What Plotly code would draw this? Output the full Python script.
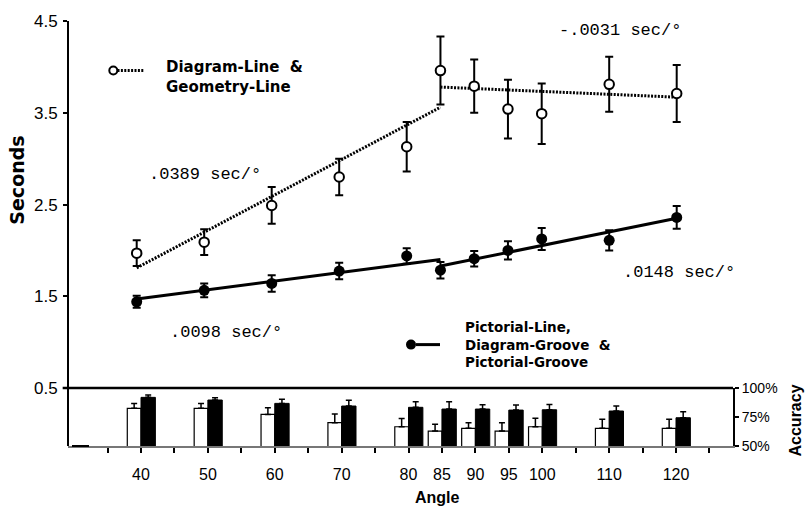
import plotly.graph_objects as go

# ---------------- data ----------------
angles = [40, 50, 60, 70, 80, 85, 90, 95, 100, 110, 120]

# Diagram-Line & Geometry-Line (open circles), seconds
open_rt = [1.97, 2.09, 2.49, 2.80, 3.13, 3.96, 3.79, 3.54, 3.49, 3.81, 3.71]
open_err = [0.14, 0.14, 0.20, 0.20, 0.27, 0.37, 0.29, 0.32, 0.33, 0.30, 0.31]

# Pictorial-Line, Diagram-Groove & Pictorial-Groove (filled circles), seconds
filled_rt = [1.44, 1.565, 1.64, 1.775, 1.94, 1.785, 1.91, 2.00, 2.125, 2.11, 2.36]
filled_err = [0.065, 0.075, 0.09, 0.09, 0.085, 0.09, 0.085, 0.10, 0.12, 0.11, 0.125]

# regression segments
open_fit1_x = [40, 85]
open_fit1_y = [1.81, 3.56]
open_fit2_x = [85, 120]
open_fit2_y = [3.78, 3.67]
filled_fit1_x = [40, 85]
filled_fit1_y = [1.47, 1.90]
filled_fit2_x = [85, 120]
filled_fit2_y = [1.83, 2.35]

slope_labels = [".0389 sec/°", "-.0031 sec/°", ".0148 sec/°", ".0098 sec/°"]

# accuracy (%)
acc_open = [82.5, 82.5, 77.3, 70.1, 66.6, 62.9, 65.3, 62.9, 66.6, 65.3, 65.3]
acc_open_err = [4.3, 4.3, 5.7, 7.5, 7.2, 5.8, 4.8, 7.2, 7.3, 7.7, 7.7]
acc_filled = [92.0, 89.7, 86.8, 84.5, 83.4, 81.9, 81.9, 81.0, 81.3, 80.2, 74.4]
acc_filled_err = [2.0, 2.0, 3.5, 4.9, 4.8, 6.3, 3.7, 4.3, 4.6, 4.3, 5.2]

angle_ticks = [35, 40, 45, 50, 55, 60, 65, 70, 75, 80, 85, 90, 95, 100, 105, 110, 115, 120, 125]
angle_labels = [40, 50, 60, 70, 80, 85, 90, 95, 100, 110, 120]
sec_ticks = [0.5, 1.5, 2.5, 3.5, 4.5]
acc_ticks = [50, 75, 100]
acc_ticktext = ["50%", "75%", "100%"]

# ---------------- figure ----------------
W, H = 808, 516
L, R, T, B = 68, 75, 13, 70
PW, PH = W - L - R, H - T - B
split = (446 - 387) / PH  # fraction of plot height for accuracy panel


def px(xp):
    return (xp - L) / PW


def py(yp):
    return (T + PH - yp) / PH


fig = go.Figure()

DOT = "2px,1.4px"

for xs, ys in [(open_fit1_x, open_fit1_y), (open_fit2_x, open_fit2_y)]:
    fig.add_trace(go.Scatter(x=xs, y=ys, mode="lines",
                             line=dict(color="black", width=3, dash=DOT),
                             hoverinfo="skip", showlegend=False))
for xs, ys in [(filled_fit1_x, filled_fit1_y), (filled_fit2_x, filled_fit2_y)]:
    fig.add_trace(go.Scatter(x=xs, y=ys, mode="lines",
                             line=dict(color="black", width=3),
                             hoverinfo="skip", showlegend=False))

fig.add_trace(go.Scatter(
    x=angles, y=open_rt, mode="markers",
    marker=dict(symbol="circle", size=9.5, color="white", line=dict(color="black", width=2)),
    error_y=dict(type="data", array=open_err, color="black", thickness=2, width=4),
    showlegend=False))
fig.add_trace(go.Scatter(
    x=angles, y=filled_rt, mode="markers",
    marker=dict(symbol="circle", size=11, color="black"),
    error_y=dict(type="data", array=filled_err, color="black", thickness=2, width=4),
    showlegend=False))

# accuracy bars
fig.add_trace(go.Bar(
    x=angles, y=acc_open, xaxis="x2", yaxis="y2", width=2.05, offset=-2.05,
    marker=dict(color="white", line=dict(color="black", width=1.2)),
    error_y=dict(type="data", symmetric=False, array=acc_open_err,
                 arrayminus=[0] * len(angles), color="black", thickness=1.5, width=3),
    showlegend=False))
fig.add_trace(go.Bar(
    x=angles, y=acc_filled, xaxis="x2", yaxis="y2", width=2.15, offset=0,
    marker=dict(color="black", line=dict(color="black", width=1)),
    error_y=dict(type="data", symmetric=False, array=acc_filled_err,
                 arrayminus=[0] * len(angles), color="black", thickness=1.5, width=3),
    showlegend=False))

top_x0 = 40 - (136.7 - L) / 6.75
top_x1 = 120 + (L + PW - 676.7) / 6.75
bot_x0 = 40 - (141 - L) / 6.6875
bot_x1 = 120 + (L + PW - 676) / 6.6875

tick_font = dict(family="Liberation Sans, Arial, sans-serif", size=17, color="black")

fig.update_layout(
    width=W, height=H,
    margin=dict(l=L, r=R, t=T, b=B),
    paper_bgcolor="white", plot_bgcolor="white",
    barmode="overlay",
    xaxis=dict(range=[top_x0, top_x1], domain=[0, 1], anchor="y",
               visible=False, showgrid=False, zeroline=False),
    yaxis=dict(range=[0.5, 4.5], domain=[split, 1], anchor="x",
               tickvals=sec_ticks, ticktext=[f"{v:.1f}" for v in sec_ticks],
               ticks="outside", ticklen=4, tickwidth=1.5, tickcolor="black",
               showline=False, showgrid=False, zeroline=False,
               tickfont=tick_font, ticklabelstandoff=2),
    xaxis2=dict(range=[bot_x0, bot_x1], domain=[0, 1], anchor="y2",
                tickvals=angle_ticks,
                ticktext=[str(a) if a in angle_labels else "" for a in angle_ticks],
                ticks="outside", ticklen=5, tickwidth=1.5, tickcolor="black",
                showline=True, linecolor="#777", linewidth=1.5,
                showgrid=False, zeroline=False,
                tickfont=dict(family="Liberation Sans, Arial, sans-serif", size=16, color="black"),
                ticklabelstandoff=8),
    yaxis2=dict(range=[50, 100], domain=[0, split], anchor="x2", side="right",
                tickvals=acc_ticks, ticktext=acc_ticktext,
                ticks="outside", ticklen=4, tickwidth=2, tickcolor="black",
                showline=True, linecolor="black", linewidth=2,
                showgrid=False, zeroline=False,
                tickfont=dict(family="Liberation Sans, Arial, sans-serif",
                              size=14, color="black")),
)

shapes = [
    # left axis spanning both panels
    dict(type="line", xref="paper", yref="paper", x0=0, x1=0, y0=0, y1=1,
         line=dict(color="black", width=2)),
    # separator at 0.5 / 100%
    dict(type="line", xref="paper", yref="paper", x0=-0.008, x1=1, y0=split, y1=split,
         line=dict(color="black", width=2.5)),
    # short dark stroke on the baseline near the left axis
    dict(type="line", xref="paper", yref="paper", x0=px(72), x1=px(89), y0=0, y1=0,
         line=dict(color="black", width=2)),
    # legend keys
    dict(type="line", xref="paper", yref="paper", x0=px(117.5), x1=px(143.5),
         y0=py(63.5), y1=py(63.5), line=dict(color="black", width=3, dash=DOT)),
    dict(type="circle", xref="paper", yref="paper", xsizemode="pixel", ysizemode="pixel",
         xanchor=px(113.3), yanchor=py(63.5), x0=-4, x1=4, y0=-4, y1=4,
         fillcolor="white", line=dict(color="black", width=2)),
    dict(type="line", xref="paper", yref="paper", x0=px(416), x1=px(440),
         y0=py(342.7), y1=py(342.7), line=dict(color="black", width=3)),
    dict(type="circle", xref="paper", yref="paper", xsizemode="pixel", ysizemode="pixel",
         xanchor=px(411), yanchor=py(342.7), x0=-5, x1=5, y0=-5, y1=5,
         fillcolor="black", line=dict(color="black", width=0)),
]
fig.update_layout(shapes=shapes)

mono = dict(family="Liberation Mono, Courier New, monospace", size=17, color="black")
slope_pos = [(146.7, 169.3), (556.7, 22.7), (620.7, 269), (168.3, 330.7)]
ann = []
for txt, (xp, yp) in zip(slope_labels, slope_pos):
    ann.append(dict(text=txt, xref="paper", yref="paper", x=px(xp), y=py(yp),
                    xanchor="left", yanchor="middle", showarrow=False, font=mono))
ann.append(dict(text="<b>Diagram-Line  &amp;<br>Geometry-Line</b>", xref="paper", yref="paper",
                x=px(164), y=py(70), xanchor="left", yanchor="middle", align="left",
                showarrow=False, font=dict(family="DejaVu Sans, sans-serif", size=15, color="black")))
ann.append(dict(text="<b>Pictorial-Line,<br>Diagram-Groove  &amp;<br>Pictorial-Groove</b>",
                xref="paper", yref="paper", x=px(463), y=py(343), xanchor="left",
                yanchor="middle", align="left", showarrow=False,
                font=dict(family="DejaVu Sans, sans-serif", size=13.5, color="black")))
ann.append(dict(text="<b>Seconds</b>", xref="paper", yref="paper", x=px(16.7), y=py(175),
                xanchor="center", yanchor="middle", textangle=-90, showarrow=False,
                font=dict(family="DejaVu Sans, sans-serif", size=19, color="black")))
ann.append(dict(text="<b>Accuracy</b>", xref="paper", yref="paper", x=px(795), y=py(420),
                xanchor="center", yanchor="middle", textangle=-90, showarrow=False,
                font=dict(family="Liberation Sans, Arial, sans-serif", size=16, color="black")))
ann.append(dict(text="<b>Angle</b>", xref="paper", yref="paper", x=px(437), y=py(498),
                xanchor="center", yanchor="middle", showarrow=False,
                font=dict(family="Liberation Sans, Arial, sans-serif", size=16, color="black")))
fig.update_layout(annotations=ann)

fig.write_html("out.html")
